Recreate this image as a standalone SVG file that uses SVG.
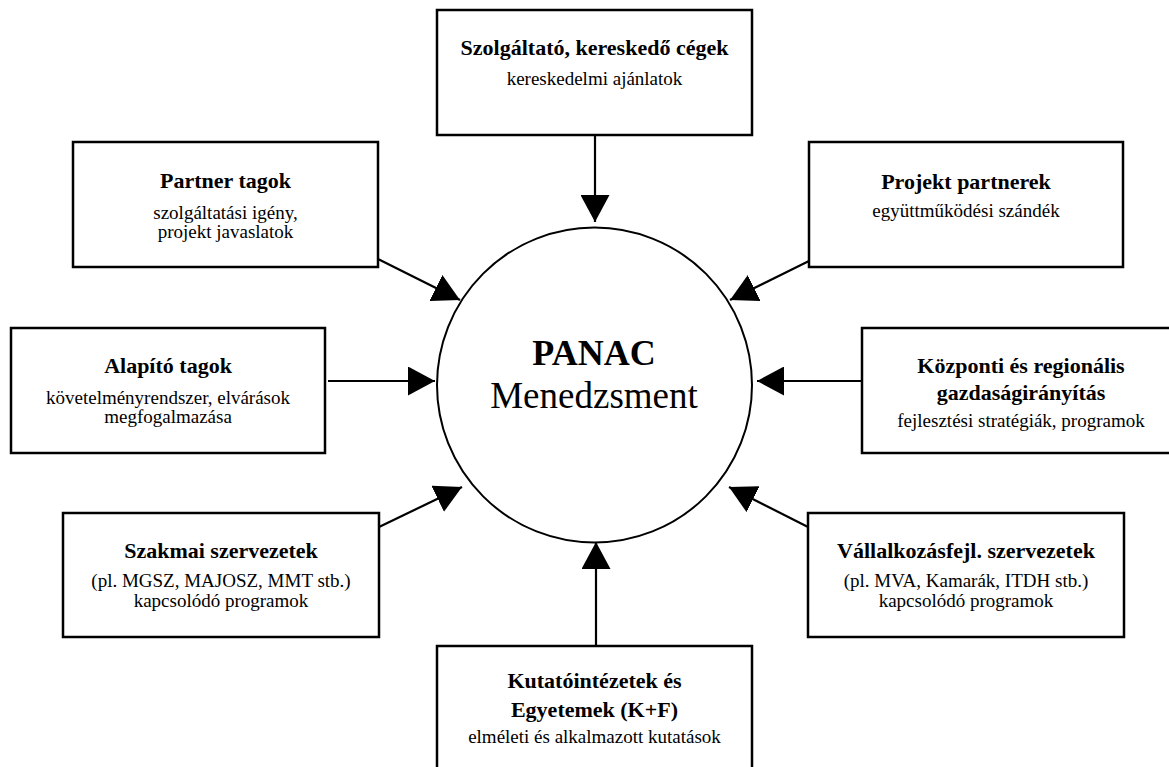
<svg xmlns="http://www.w3.org/2000/svg" width="1169" height="767" viewBox="0 0 1169 767">
<style>
.box{fill:#fff;stroke:#000;stroke-width:2.5}
.t{font-family:"Liberation Serif","Times New Roman",serif;font-weight:bold;font-size:22px;text-anchor:middle;fill:#000}
.s{font-family:"Liberation Serif","Times New Roman",serif;font-size:19px;text-anchor:middle;fill:#000}
.c{stroke:#000;stroke-width:2.2;fill:none;marker-end:url(#ah)}
</style>
<defs>
<marker id="ah" markerUnits="userSpaceOnUse" viewBox="0 0 27 29" markerWidth="27" markerHeight="29" refX="27" refY="14.5" orient="auto">
<path d="M0,0 L27,14.5 L0,29 Z" fill="#000"/>
</marker>
</defs>
<rect width="1169" height="767" fill="#fff"/>
<g id="connectors">
<line class="c" x1="595" y1="135" x2="595" y2="222"/>
<line class="c" x1="378" y1="259" x2="460" y2="300"/>
<line class="c" x1="809" y1="261" x2="730" y2="300"/>
<line class="c" x1="328" y1="381" x2="435" y2="381"/>
<line class="c" x1="862" y1="381" x2="757" y2="381"/>
<line class="c" x1="379" y1="527" x2="462" y2="487"/>
<line class="c" x1="808" y1="527" x2="729" y2="487"/>
<line class="c" x1="596" y1="646" x2="596" y2="542"/>
</g>
<g id="center">
<circle cx="594.5" cy="385" r="157.5" fill="#fff" stroke="#000" stroke-width="2"/>
<text x="594" y="365" font-family="Liberation Serif,serif" font-weight="bold" font-size="36" text-anchor="middle">PANAC</text>
<text x="594" y="408" font-family="Liberation Serif,serif" font-size="37" text-anchor="middle">Menedzsment</text>
</g>
<g id="n-szolgaltato">
<rect class="box" x="437" y="10" width="315" height="125"/>
<text class="t" x="594.5" y="55">Szolgáltató, kereskedő cégek</text>
<text class="s" x="594.5" y="85">kereskedelmi ajánlatok</text>
</g>
<g id="n-partner">
<rect class="box" x="73" y="142" width="305" height="125"/>
<text class="t" x="225.5" y="188">Partner tagok</text>
<text class="s" x="225.5" y="219">szolgáltatási igény,</text>
<text class="s" x="225.5" y="238">projekt javaslatok</text>
</g>
<g id="n-projekt">
<rect class="box" x="809" y="142" width="314" height="125"/>
<text class="t" x="966" y="189">Projekt partnerek</text>
<text class="s" x="966" y="217">együttműködési szándék</text>
</g>
<g id="n-alapito">
<rect class="box" x="11" y="328" width="314" height="125"/>
<text class="t" x="168" y="373">Alapító tagok</text>
<text class="s" x="168" y="404">követelményrendszer, elvárások</text>
<text class="s" x="168" y="423">megfogalmazása</text>
</g>
<g id="n-kozponti">
<rect class="box" x="862" y="328" width="320" height="125"/>
<text class="t" x="1021" y="373">Központi és regionális</text>
<text class="t" x="1021" y="400">gazdaságirányítás</text>
<text class="s" x="1021" y="427">fejlesztési stratégiák, programok</text>
</g>
<g id="n-szakmai">
<rect class="box" x="63" y="513" width="316" height="124"/>
<text class="t" x="221" y="558">Szakmai szervezetek</text>
<text class="s" x="221" y="587">(pl. MGSZ, MAJOSZ, MMT stb.)</text>
<text class="s" x="221" y="607">kapcsolódó programok</text>
</g>
<g id="n-vallalkozas">
<rect class="box" x="808" y="513" width="316" height="124"/>
<text class="t" x="966" y="558">Vállalkozásfejl. szervezetek</text>
<text class="s" x="966" y="587">(pl. MVA, Kamarák, ITDH stb.)</text>
<text class="s" x="966" y="607">kapcsolódó programok</text>
</g>
<g id="n-kutato">
<rect class="box" x="437" y="646" width="315" height="140"/>
<text class="t" x="594.5" y="688">Kutatóintézetek és</text>
<text class="t" x="594.5" y="717">Egyetemek (K+F)</text>
<text class="s" x="594.5" y="743">elméleti és alkalmazott kutatások</text>
</g>
</svg>
